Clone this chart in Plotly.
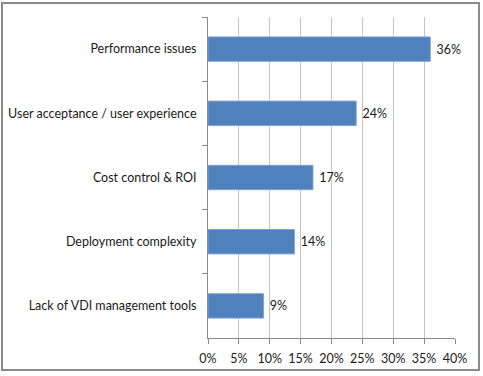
import plotly.graph_objects as go

categories = ["Performance issues", "User acceptance / user experience",
              "Cost control & ROI", "Deployment complexity",
              "Lack of VDI management tools"]
values = [36, 24, 17, 14, 9]
x_ticks = [0, 5, 10, 15, 20, 25, 30, 35, 40]
x_tick_labels = [f"{v}%" for v in x_ticks]

fig = go.Figure(go.Bar(
    y=categories, x=values, orientation="h",
    marker=dict(color="#4F81BD", line=dict(color="#7FA3D6", width=1)),
    text=[f"\u00a0{v}%" for v in values], textposition="outside",
    textfont=dict(color="#1a1a1a", size=12.5),
    cliponaxis=False, width=0.38, hoverinfo="skip",
))

W, H = 483, 376
l, r, t, b = 208, 28, 17, 38
pw, ph = W - l - r, H - t - b

def px(x):
    return (x - l) / pw

def py(y):
    return (H - b - y) / ph

fig.add_shape(type="rect", xref="paper", yref="paper",
              x0=px(2), x1=px(479), y0=py(370), y1=py(3),
              line=dict(color="#8a8a8a", width=2), layer="below")

fig.update_layout(
    width=W, height=H, margin=dict(l=l, r=r, t=t, b=b, autoexpand=False),
    paper_bgcolor="white", plot_bgcolor="white",
    font=dict(family="Lato, 'Open Sans', sans-serif", size=12.5, color="#1a1a1a"),
    showlegend=False,
    xaxis=dict(range=[0, 40], tickmode="array", tickvals=x_ticks,
               ticktext=x_tick_labels, ticklabelstandoff=4,
               showgrid=True, gridcolor="#c4c4c4", gridwidth=1,
               showline=True, linecolor="#8a8a8a", linewidth=1,
               ticks="outside", ticklen=5, tickcolor="#8a8a8a",
               zeroline=False, fixedrange=True),
    yaxis=dict(categoryorder="array", categoryarray=categories,
               autorange="reversed",
               showline=True, linecolor="#8a8a8a", linewidth=1,
               ticks="outside", ticklen=5, tickcolor="#8a8a8a",
               tickson="boundaries", ticklabelstandoff=8,
               showgrid=False, fixedrange=True),
)

fig.write_html("out.html", config={"displayModeBar": False},
               post_script="document.body.style.margin='0';")
